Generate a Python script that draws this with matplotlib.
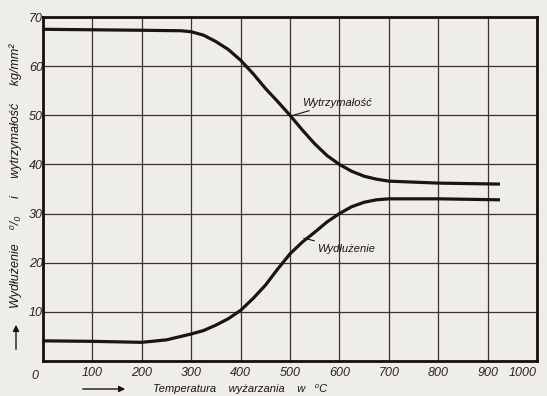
import matplotlib
matplotlib.use("Agg")
import matplotlib.pyplot as plt

plt.rcParams['font.family'] = ['Liberation Sans', 'DejaVu Sans']

# temperatura wyzarzania [C] i odczytane wartosci
temp_r = [0, 100, 200, 280, 300, 325, 350, 375, 400, 425, 450, 475, 500,
          525, 550, 575, 600, 625, 650, 675, 700, 800, 925]
wytrzymalosc = [67.5, 67.4, 67.3, 67.2, 67.0, 66.3, 65.0, 63.4, 61.2, 58.5,
                55.5, 52.8, 50.0, 47.0, 44.2, 41.8, 40.0, 38.6, 37.6, 37.0,
                36.6, 36.2, 36.0]

temp_e = [0, 100, 200, 250, 300, 325, 350, 375, 400, 425, 450, 475, 500,
          525, 550, 575, 600, 625, 650, 675, 700, 800, 925]
wydluzenie = [4.1, 4.0, 3.8, 4.3, 5.5, 6.2, 7.3, 8.6, 10.3, 12.7, 15.4, 18.7,
              21.8, 24.2, 26.2, 28.3, 30.0, 31.4, 32.3, 32.8, 33.0, 33.0, 32.8]

xticks = list(range(0, 1001, 100))
yticks = list(range(0, 71, 10))

W, H = 547, 396
bg = '#efede7'
ink = '#1a1414'
fig = plt.figure(figsize=(W / 100, H / 100), dpi=100, facecolor=bg)
ax = fig.add_axes([43 / W, 1 - 361 / H, (537 - 43) / W, (361 - 17) / H])
ax.set_facecolor(bg)

ax.plot(temp_r, wytrzymalosc, color=ink, lw=2.3, solid_capstyle='butt')
ax.plot(temp_e, wydluzenie, color=ink, lw=2.3, solid_capstyle='butt')

ax.set_xlim(0, 1000)
ax.set_ylim(0, 70)
ax.set_xticks(xticks)
ax.set_yticks(yticks)
ax.set_xticklabels([''] + [str(t) for t in xticks[1:]])
ax.set_yticklabels([''] + [str(t) for t in yticks[1:]])
ax.grid(True, color='#3d3030', lw=0.9)
ax.tick_params(length=0, labelsize=9, colors='#2a2222')
ax.tick_params(axis='x', pad=4)
ax.tick_params(axis='y', pad=0)
for lab in ax.get_xticklabels() + ax.get_yticklabels():
    lab.set_fontstyle('italic')
ax.get_xticklabels()[-1].set_horizontalalignment('right')
for s in ax.spines.values():
    s.set_color('#151010')
    s.set_linewidth(2)

fig.text(35 / W, 1 - 376 / H, '0', fontsize=9, style='italic',
         color='#2a2222', ha='center', va='center')

# opisy krzywych
ax.annotate('Wytrzymałość', xy=(500, 49.8), xytext=(525, 52.6),
            fontsize=8, style='italic', color=ink, va='center',
            arrowprops=dict(arrowstyle='-', color=ink, lw=0.8,
                            shrinkA=1, shrinkB=0))
ax.annotate('Wydłużenie', xy=(528, 25.0), xytext=(555, 22.8),
            fontsize=8, style='italic', color=ink, va='center',
            arrowprops=dict(arrowstyle='-', color=ink, lw=0.8,
                            shrinkA=1, shrinkB=0))

# opisy osi
fig.text(240 / W, 1 - 389 / H, 'Temperatura    wyżarzania    w   ⁰C',
         fontsize=8, style='italic', color=ink, ha='center', va='center')
fig.text(16 / W, 1 - 176 / H, 'Wydłużenie    ⁰/₀     i     wytrzymałość     kg/mm²',
         fontsize=9, style='italic', color=ink, ha='center',
         va='center', rotation=90)
fig.add_artist(matplotlib.patches.FancyArrowPatch(
    (80 / W, 1 - 389 / H), (128 / W, 1 - 389 / H), transform=fig.transFigure,
    arrowstyle='-|>', mutation_scale=9, color=ink, lw=1))
fig.add_artist(matplotlib.patches.FancyArrowPatch(
    (16 / W, 1 - 352 / H), (16 / W, 1 - 322 / H), transform=fig.transFigure,
    arrowstyle='-|>', mutation_scale=9, color=ink, lw=1))

fig.savefig('out.png', dpi=100, facecolor=bg)
